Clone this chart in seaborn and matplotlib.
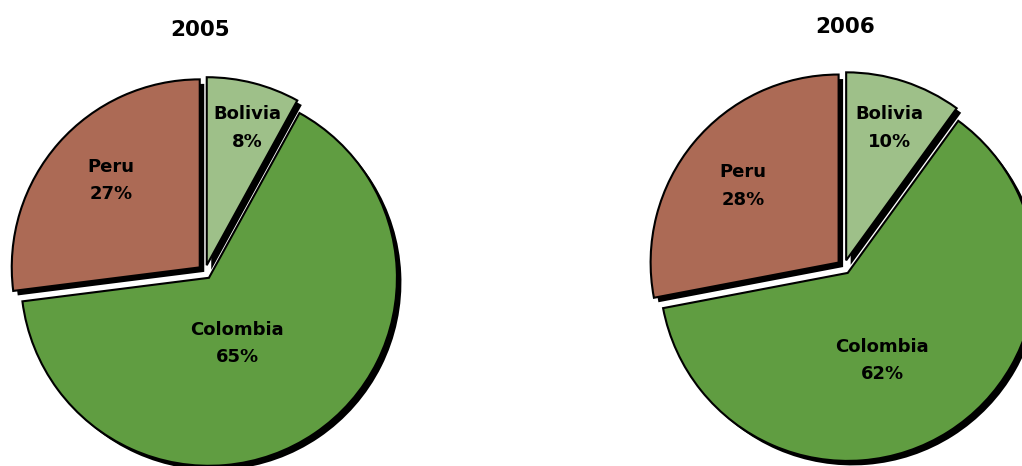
import numpy as np
import matplotlib
matplotlib.use("Agg")
import matplotlib.pyplot as plt
import seaborn as sns

# ---- data ----
countries = ["Bolivia", "Colombia", "Peru"]
years = ["2005", "2006"]
shares_2005 = [8, 65, 27]
shares_2006 = [10, 62, 28]

sns.set_theme(style="white")
plt.rcParams['font.family'] = ['DejaVu Sans']

colors = ["#9EC089", "#609D41", "#AC6A55"]

W, H = 1022, 466
fig = plt.figure(figsize=(W / 100, H / 100), dpi=100)
ax = fig.add_axes([0, 0, 1, 1])

# layout (pixel coords, y measured from top)
pie_centers = [(205, 272), (844, 267)]
title_pos = [(200, 30), (845, 27)]
radius = 188
explode_px = 7
shadow_off = 4.5
label_dist = [[0.76, 0.38, 0.66], [0.74, 0.50, 0.65]]
label_dang = [[-2, -11, -3], [0, -11, 1]]

for k, (yr, vals) in enumerate(zip(years, [shares_2005, shares_2006])):
    cx, cy = pie_centers[k]
    cy = H - cy
    expl = [explode_px] * len(vals)
    # shadow
    ax.pie(vals, colors=["black"] * 3, startangle=90, counterclock=False,
           radius=radius, center=(cx + shadow_off, cy - shadow_off), explode=expl,
           wedgeprops=dict(linewidth=0), frame=True)
    wedges, _ = ax.pie(vals, colors=colors, startangle=90, counterclock=False,
                       radius=radius, center=(cx, cy), explode=expl,
                       wedgeprops=dict(linewidth=1.5, edgecolor="black"), frame=True)
    for i, w in enumerate(wedges):
        ang = np.deg2rad(0.5 * (w.theta1 + w.theta2) + label_dang[k][i])
        wx, wy = w.center
        r = radius * label_dist[k][i]
        ax.text(wx + r * np.cos(ang), wy + r * np.sin(ang),
                f"{countries[i]}\n{vals[i]}%", ha="center", va="center",
                fontsize=13, fontweight="bold", color="black", linespacing=1.7)
    tx, ty = title_pos[k]
    ax.text(tx, H - ty, yr, ha="center", va="center", fontsize=15.5,
            fontweight="bold", color="black")

ax.set_xlim(0, W)
ax.set_ylim(0, H)
ax.set_aspect("auto")
ax.axis("off")
fig.savefig("out.png", dpi=100)
